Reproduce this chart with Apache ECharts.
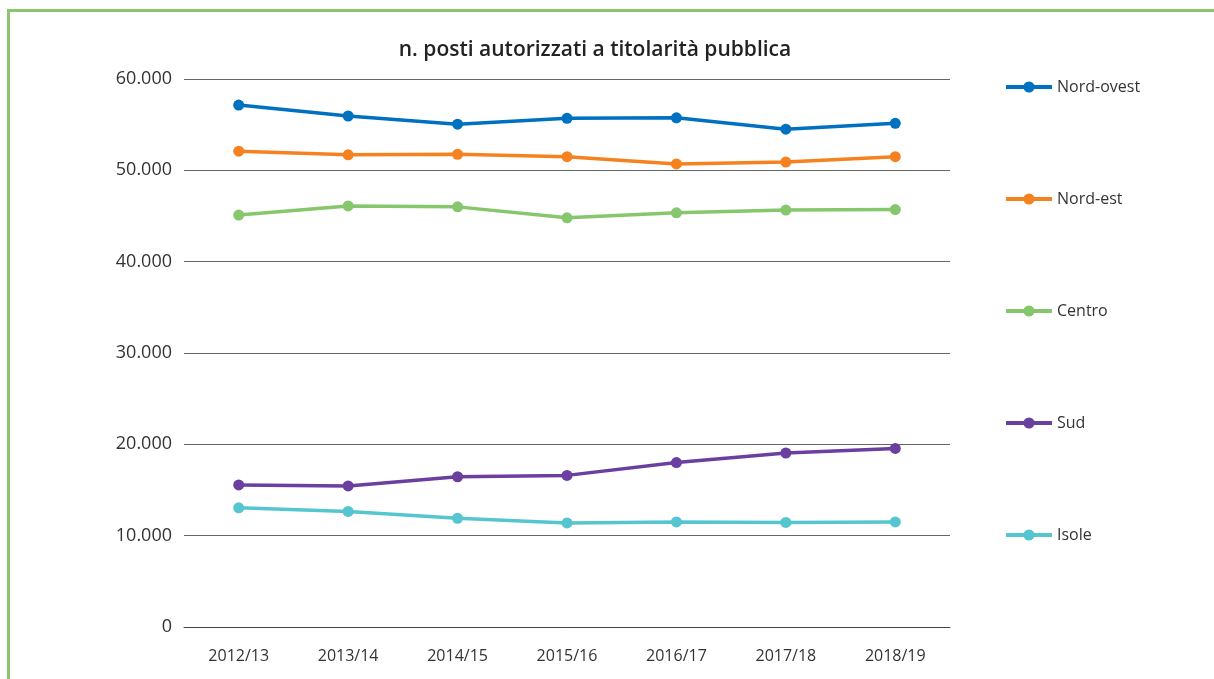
<!DOCTYPE html>
<html>
<head>
<meta charset="utf-8">
<script src="https://cdn.jsdelivr.net/npm/echarts@6/dist/echarts.min.js"></script>
<style>
html,body{margin:0;padding:0;background:#fff;}
#chart{width:1214px;height:679px;}
</style>
</head>
<body>
<div id="chart"></div>
<script>
const categories = ['2012/13','2013/14','2014/15','2015/16','2016/17','2017/18','2018/19'];
const nordOvest = [57150, 55950, 55050, 55700, 55750, 54500, 55150];
const nordEst   = [52100, 51700, 51750, 51500, 50700, 50900, 51500];
const centro    = [45100, 46100, 46000, 44800, 45350, 45650, 45700];
const sud       = [15550, 15450, 16450, 16600, 18000, 19050, 19550];
const isole     = [13050, 12650, 11900, 11400, 11500, 11450, 11500];
const seriesNames = ['Nord-ovest','Nord-est','Centro','Sud','Isole'];
const seriesColors = ['#0070c0','#f5821f','#86c66c','#6b3fa0','#55c5d0'];
const seriesData = [nordOvest, nordEst, centro, sud, isole];

const chart = echarts.init(document.getElementById('chart'));
const fontFamily = '"Open Sans", sans-serif';
chart.setOption({
  animation: false,
  textStyle: {fontFamily: fontFamily},
  graphic: [
    {type:'line', shape:{x1:8.5, y1:10, x2:8.5, y2:679}, style:{stroke:'#8cc56e', lineWidth:3}},
    {type:'line', shape:{x1:7, y1:10.5, x2:1214, y2:10.5}, style:{stroke:'#8cc56e', lineWidth:3}}
  ],
  title: {
    text: 'n. posti autorizzati a titolarità pubblica',
    left: 590, top: 35, textAlign: 'center',
    textStyle: {fontSize: 21, fontWeight: 600, color: '#222', fontFamily: fontFamily}
  },
  legend: {
    orient: 'vertical',
    left: 999, top: 74,
    itemWidth: 46, itemHeight: 14, itemGap: 96,
    lineStyle: {width: 4},
    textStyle: {fontSize: 16, color: '#333', lineHeight: 16, fontFamily: fontFamily},
    data: seriesNames
  },
  grid: {left: 184, right: 264, top: 79, bottom: 52},
  xAxis: {
    type: 'category',
    data: categories,
    boundaryGap: true,
    axisLine: {lineStyle: {color: '#444', width: 1}},
    axisTick: {show: false},
    axisLabel: {fontSize: 16, color: '#333', margin: 21, fontFamily: fontFamily}
  },
  yAxis: {
    type: 'value',
    min: 0, max: 60000, interval: 10000,
    axisLine: {show: false},
    axisTick: {show: false},
    splitLine: {lineStyle: {color: '#666', width: 1}},
    axisLabel: {
      fontSize: 18, color: '#333', margin: 12, fontFamily: fontFamily,
      formatter: v => v === 0 ? '0' : v.toString().replace(/\B(?=(\d{3})+(?!\d))/g, '.')
    }
  },
  series: seriesNames.map((n, i) => ({
    name: n,
    type: 'line',
    data: seriesData[i],
    color: seriesColors[i],
    symbol: 'circle',
    symbolSize: 11,
    lineStyle: {width: 3.5, color: seriesColors[i]},
    itemStyle: {color: seriesColors[i]}
  }))
});
</script>
</body>
</html>
